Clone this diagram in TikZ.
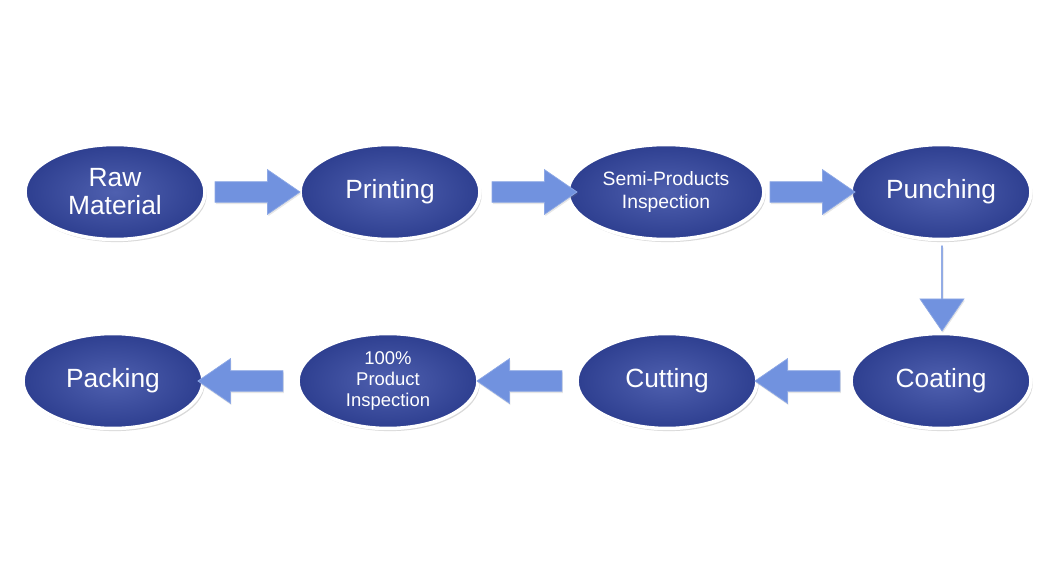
\documentclass[tikz,border=0pt]{standalone}
\usepackage{fontspec}
\setmainfont{Liberation Sans}
\usepackage{tikz}
\usetikzlibrary{shapes.geometric,shapes.arrows,shadows}
\definecolor{Cstep}{HTML}{3B4EA6}
\definecolor{Cstepdark}{HTML}{2E3F90}
\definecolor{Carrow}{HTML}{7192DF}
\tikzset{
  stepnode/.style={ellipse, draw=white, line width=2pt, inner color=Cstep!90!white, outer color=Cstepdark,
    minimum width=3.6cm, minimum height=1.9cm, text=white, align=center, font=\fontsize{15}{16}\selectfont,
    drop shadow={opacity=0.3, shadow xshift=1pt, shadow yshift=-1.5pt}},
  smalltext/.style={font=\fontsize{11}{13}\selectfont},
  flowarrow/.style={single arrow, fill=Carrow, draw=Carrow!80!white, minimum width=0.88cm, minimum height=1.7cm,
    single arrow head extend=0.24cm, single arrow tip angle=69, inner xsep=0pt, inner ysep=0.2cm,
    drop shadow={opacity=0.2, shadow xshift=0.5pt, shadow yshift=-1pt}}
}
\begin{document}
\begin{tikzpicture}[x=0.02cm, y=-0.02cm]
\useasboundingbox (0,0) rectangle (1059,584);
% top row
\node[stepnode] (raw) at (115,192) {Raw\\Material};
\node[stepnode] (print) at (390,192) {Printing};
\node[stepnode, smalltext] (semi) at (666,192) {Semi-Products\\Inspection};
\node[stepnode] (punch) at (941,192) {Punching};
% bottom row
\node[stepnode] (coat) at (941,381) {Coating};
\node[stepnode] (cut) at (667,381) {Cutting};
\node[stepnode, smalltext, inner sep=0pt, font=\fontsize{10.5}{12}\selectfont] (check) at (388,381) {100\%\\Product\\Inspection};
\node[stepnode] (pack) at (113,381) {Packing};
% arrows
\node[flowarrow] (a1) at (250,192) {};
\node[flowarrow] (a2) at (527,192) {};
\node[flowarrow] (a3) at (805,192) {};
\node[flowarrow, shape border rotate=270] (a4) at (942,288) {};
\node[flowarrow, shape border rotate=180] (a5) at (805,381) {};
\node[flowarrow, shape border rotate=180] (a6) at (527,381) {};
\node[flowarrow, shape border rotate=180] (a7) at (248,381) {};
\end{tikzpicture}
\end{document}
